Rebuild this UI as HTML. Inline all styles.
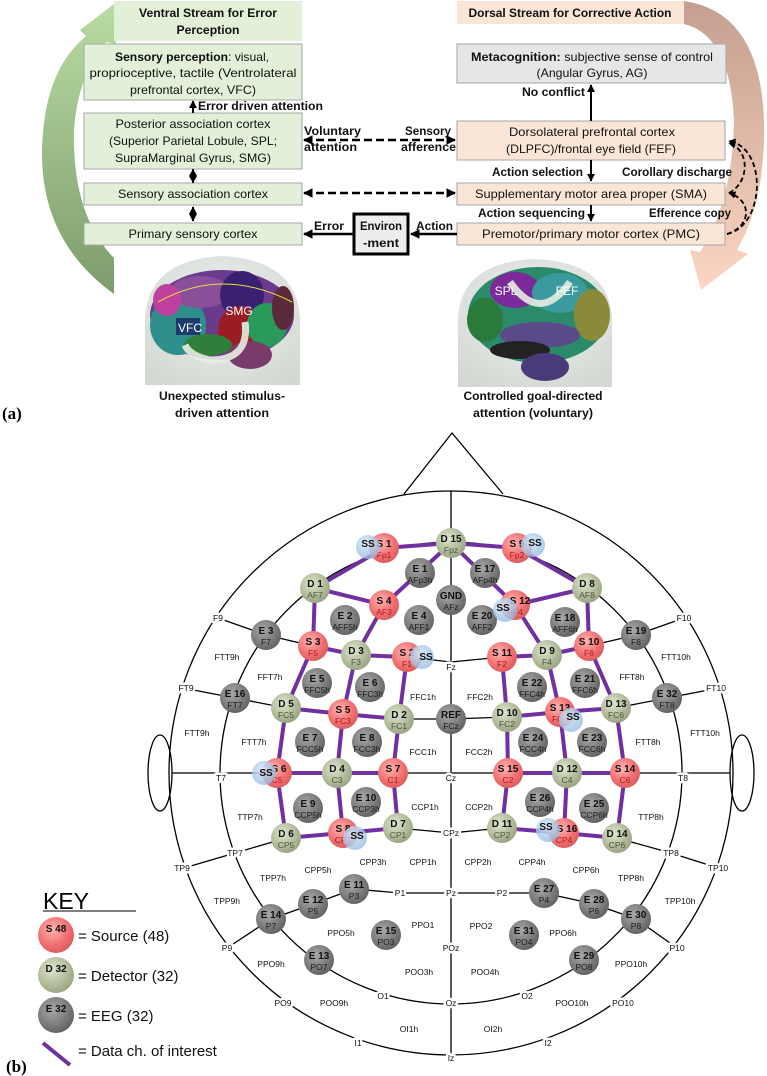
<!DOCTYPE html>
<html><head><meta charset="utf-8"><style>
html,body{margin:0;padding:0;background:#fff;}
svg{display:block;font-family:"Liberation Sans",sans-serif;}
.bx{font-size:12px;fill:#111;}
.lb{font-size:11.5px;font-weight:bold;fill:#111;}
.ml{font-size:8.5px;fill:#111;paint-order:stroke;stroke:#fff;stroke-width:5px;stroke-linejoin:round;}
.nt{font-size:10px;font-weight:bold;fill:#111;}
.nbS{font-size:8.5px;fill:#b01818;}
.nbD{font-size:8.5px;fill:#4b5637;}
.nbE{font-size:8.5px;fill:#1c1c1c;}
.pl{stroke:#7030a0;stroke-width:4;stroke-linecap:round;}
</style></head><body>
<svg width="767" height="1076" viewBox="0 0 767 1076" xmlns="http://www.w3.org/2000/svg">
<defs>
<linearGradient id="gg" x1="0" y1="0" x2="0" y2="1"><stop offset="0" stop-color="#b9dca3"/><stop offset="1" stop-color="#7d9c6c"/></linearGradient>
<linearGradient id="pg" x1="0" y1="0" x2="0" y2="1"><stop offset="0" stop-color="#c49f8f"/><stop offset="1" stop-color="#fbd6c2"/></linearGradient>
<radialGradient id="gS" cx="0.4" cy="0.35" r="0.7"><stop offset="0" stop-color="#ffb3b3"/><stop offset="0.6" stop-color="#f27272"/><stop offset="1" stop-color="#d85a5a"/></radialGradient>
<radialGradient id="gD" cx="0.4" cy="0.35" r="0.7"><stop offset="0" stop-color="#dfe5cf"/><stop offset="0.6" stop-color="#b3bd9c"/><stop offset="1" stop-color="#97a182"/></radialGradient>
<radialGradient id="gE" cx="0.4" cy="0.35" r="0.7"><stop offset="0" stop-color="#a8a8a8"/><stop offset="0.6" stop-color="#7d7d7d"/><stop offset="1" stop-color="#5e5e5e"/></radialGradient>
<radialGradient id="gB" cx="0.4" cy="0.35" r="0.7"><stop offset="0" stop-color="#d6e7f7" stop-opacity="0.9"/><stop offset="1" stop-color="#8fb8e0" stop-opacity="0.75"/></radialGradient>
<radialGradient id="head" cx="0.5" cy="0.4" r="0.7"><stop offset="0" stop-color="#eef1ee"/><stop offset="1" stop-color="#d3d8d3"/></radialGradient>
<marker id="ah" viewBox="0 0 10 10" refX="9" refY="5" markerWidth="4" markerHeight="4" orient="auto-start-reverse"><path d="M0,0L10,5L0,10z" fill="#000"/></marker>
</defs>

<!-- ===== (a) ===== -->
<path d="M114,294 Q25,230 46,110 Q55,62 86,36 L80,30 L114,4 L116,44 L106,42 Q78,75 74,130 Q72,215 114,258 Z" fill="url(#gg)"/>
<path d="M684,1 Q760,12 764,120 Q766,200 737,250 L748,254 L701,290 L690,250 L700,252 Q733,200 734,120 Q730,35 684,24 Z" fill="url(#pg)"/>

<rect x="114" y="1" width="188" height="40" fill="#e2f0d9"/>
<text class="bx" font-weight="bold" x="208" y="17" text-anchor="middle" textLength="138" lengthAdjust="spacingAndGlyphs">Ventral Stream for Error</text>
<text class="bx" font-weight="bold" x="208" y="34" text-anchor="middle" textLength="63" lengthAdjust="spacingAndGlyphs">Perception</text>
<rect x="457" y="1" width="227" height="23" fill="#fbe5d6"/>
<text class="bx" font-weight="bold" x="570" y="17" text-anchor="middle" textLength="203" lengthAdjust="spacingAndGlyphs">Dorsal Stream for Corrective Action</text>

<g stroke="#a6a6a6" stroke-width="1">
<rect x="84" y="44" width="218" height="56" fill="#e2f0d9"/>
<rect x="84" y="113" width="218" height="56" fill="#e2f0d9"/>
<rect x="84" y="183" width="218" height="22" fill="#e2f0d9"/>
<rect x="84" y="223" width="218" height="22" fill="#e2f0d9"/>
<rect x="457" y="44" width="269" height="39" fill="#e7e6e6"/>
<rect x="457" y="121" width="268" height="39" fill="#fbe5d6"/>
<rect x="457" y="183" width="268" height="22" fill="#fbe5d6"/>
<rect x="457" y="223" width="268" height="22" fill="#fbe5d6"/>
</g>
<rect x="354" y="214" width="54" height="40" fill="#ededed" stroke="#000" stroke-width="3"/>

<text class="bx" x="192" y="61" text-anchor="middle" textLength="154" lengthAdjust="spacingAndGlyphs"><tspan font-weight="bold">Sensory perception</tspan>: visual,</text>
<text class="bx" x="193" y="77" text-anchor="middle" textLength="207" lengthAdjust="spacingAndGlyphs">proprioceptive, tactile (Ventrolateral</text>
<text class="bx" x="193" y="94" text-anchor="middle" textLength="126" lengthAdjust="spacingAndGlyphs">prefrontal cortex, VFC)</text>
<text class="bx" x="193" y="128" text-anchor="middle" textLength="155" lengthAdjust="spacingAndGlyphs">Posterior association cortex</text>
<text class="bx" x="193" y="145" text-anchor="middle" textLength="168" lengthAdjust="spacingAndGlyphs">(Superior Parietal Lobule, SPL;</text>
<text class="bx" x="193" y="162" text-anchor="middle" textLength="156" lengthAdjust="spacingAndGlyphs">SupraMarginal Gyrus, SMG)</text>
<text class="bx" x="193" y="198" text-anchor="middle" textLength="150" lengthAdjust="spacingAndGlyphs">Sensory association cortex</text>
<text class="bx" x="193" y="238" text-anchor="middle" textLength="129" lengthAdjust="spacingAndGlyphs">Primary sensory cortex</text>
<text class="bx" x="592" y="61" text-anchor="middle" textLength="242" lengthAdjust="spacingAndGlyphs"><tspan font-weight="bold">Metacognition:</tspan> subjective sense of control</text>
<text class="bx" x="592" y="77" text-anchor="middle" textLength="111" lengthAdjust="spacingAndGlyphs">(Angular Gyrus, AG)</text>
<text class="bx" x="592" y="136" text-anchor="middle" textLength="166" lengthAdjust="spacingAndGlyphs">Dorsolateral prefrontal cortex</text>
<text class="bx" x="591" y="153" text-anchor="middle" textLength="170" lengthAdjust="spacingAndGlyphs">(DLPFC)/frontal eye field (FEF)</text>
<text class="bx" x="591" y="198" text-anchor="middle" textLength="232" lengthAdjust="spacingAndGlyphs">Supplementary motor area proper (SMA)</text>
<text class="bx" x="591" y="238" text-anchor="middle" textLength="218" lengthAdjust="spacingAndGlyphs">Premotor/primary motor cortex (PMC)</text>
<text class="bx" font-weight="bold" x="381" y="230" text-anchor="middle" textLength="42" lengthAdjust="spacingAndGlyphs">Environ</text>
<text class="bx" font-weight="bold" x="381" y="247" text-anchor="middle" textLength="36" lengthAdjust="spacingAndGlyphs">-ment</text>

<g class="lb">
<text x="198" y="110" textLength="125" lengthAdjust="spacingAndGlyphs">Error driven attention</text>
<text x="304" y="135" textLength="57" lengthAdjust="spacingAndGlyphs">Voluntary</text>
<text x="304" y="151" textLength="53" lengthAdjust="spacingAndGlyphs">attention</text>
<text x="405" y="135" textLength="46" lengthAdjust="spacingAndGlyphs">Sensory</text>
<text x="401" y="151" textLength="55" lengthAdjust="spacingAndGlyphs">afference</text>
<text x="522" y="96" textLength="63" lengthAdjust="spacingAndGlyphs">No conflict</text>
<text x="492" y="176" textLength="91" lengthAdjust="spacingAndGlyphs">Action selection</text>
<text x="622" y="176" textLength="110" lengthAdjust="spacingAndGlyphs">Corollary discharge</text>
<text x="478" y="217" textLength="107" lengthAdjust="spacingAndGlyphs">Action sequencing</text>
<text x="649" y="217" textLength="82" lengthAdjust="spacingAndGlyphs">Efference copy</text>
<text x="314" y="230" textLength="30" lengthAdjust="spacingAndGlyphs">Error</text>
<text x="416" y="230" textLength="37" lengthAdjust="spacingAndGlyphs">Action</text>
</g>

<g stroke="#000" stroke-width="2" fill="none">
<line x1="193" y1="113" x2="193" y2="101" marker-end="url(#ah)"/>
<line x1="193" y1="169" x2="193" y2="183"/>
<line x1="193" y1="207" x2="193" y2="221" marker-start="url(#ah)" marker-end="url(#ah)"/>
<line x1="304" y1="140" x2="455" y2="140" stroke-dasharray="8,4" stroke-width="2.4" marker-start="url(#ah)" marker-end="url(#ah)"/>
<line x1="304" y1="193" x2="455" y2="193" stroke-dasharray="8,4" stroke-width="2.4" marker-start="url(#ah)" marker-end="url(#ah)"/>
<line x1="353" y1="234" x2="304" y2="234" stroke-width="2.4" marker-end="url(#ah)"/>
<line x1="457" y1="234" x2="411" y2="234" stroke-width="2.4" marker-end="url(#ah)"/>
<line x1="591" y1="121" x2="591" y2="85" marker-end="url(#ah)"/>
<line x1="591" y1="160" x2="591" y2="181" marker-end="url(#ah)"/>
<line x1="591" y1="205" x2="591" y2="221" marker-end="url(#ah)"/>
<path d="M727,234 C765,226 768,148 729,141" stroke-dasharray="5,3" stroke-width="1.8" marker-end="url(#ah)"/>
<path d="M727,234 C752,226 752,200 729,193" stroke-dasharray="5,3" stroke-width="1.8" marker-end="url(#ah)"/>
<path d="M729,193 C750,182 750,150 729,143" stroke-dasharray="5,3" stroke-width="1.8" marker-end="url(#ah)"/>
</g>
<path d="M193,169 L197,176 L193,183 L189,176 Z" fill="#000"/>

<!-- brains -->
<path d="M145,385 L145,320 Q147,260 222,256 Q298,260 300,320 L300,385 Z" fill="url(#head)"/>
<g>
<ellipse cx="222" cy="315" rx="72" ry="45" fill="#6a3a8c"/>
<ellipse cx="178" cy="325" rx="28" ry="30" fill="#2f8f8a"/>
<ellipse cx="200" cy="292" rx="30" ry="16" fill="#8a4f9a"/>
<ellipse cx="242" cy="295" rx="22" ry="24" fill="#3a2070"/>
<ellipse cx="240" cy="330" rx="22" ry="24" fill="#9c1c24"/>
<ellipse cx="267" cy="325" rx="20" ry="22" fill="#2a9a5a"/>
<ellipse cx="283" cy="308" rx="11" ry="22" fill="#5a2a3a"/>
<ellipse cx="208" cy="345" rx="24" ry="11" fill="#2f7f3a"/>
<ellipse cx="250" cy="355" rx="22" ry="14" fill="#7a3a6a"/>
<ellipse cx="167" cy="300" rx="14" ry="16" fill="#c040a0"/>
<rect x="176" y="318" width="24" height="17" fill="#1e3a6a"/>
</g>
<path d="M158,302 Q222,266 292,302" fill="none" stroke="#e8e040" stroke-width="1"/>
<path d="M245,322 Q250,360 210,360 Q190,356 185,345" fill="none" stroke="#e6ede0" stroke-width="7" opacity="0.9"/>
<text x="239" y="315" fill="#fff" font-size="12" text-anchor="middle">SMG</text>
<text x="190" y="332" fill="#fff" font-size="12" text-anchor="middle">VFC</text>
<path d="M458,387 L458,320 Q460,262 535,259 Q610,262 612,320 L612,387 Z" fill="url(#head)"/>
<g>
<ellipse cx="538" cy="315" rx="70" ry="48" fill="#2a8a6a"/>
<ellipse cx="515" cy="290" rx="25" ry="18" fill="#7a2a9a"/>
<ellipse cx="560" cy="293" rx="28" ry="20" fill="#3a9aa0"/>
<ellipse cx="592" cy="315" rx="18" ry="26" fill="#8a8a3a"/>
<ellipse cx="540" cy="335" rx="40" ry="13" fill="#5a4a8a"/>
<ellipse cx="520" cy="350" rx="30" ry="9" fill="#222"/>
<ellipse cx="545" cy="367" rx="24" ry="14" fill="#4a3a7a"/>
<ellipse cx="485" cy="320" rx="18" ry="22" fill="#2a7a3a"/>
</g>
<path d="M510,282 Q540,325 570,282" fill="none" stroke="#e6ede0" stroke-width="7" opacity="0.9"/>
<text x="506" y="295" fill="#fff" font-size="12" text-anchor="middle">SPL</text>
<text x="567" y="295" fill="#fff" font-size="12" text-anchor="middle">FEF</text>

<g class="lb" text-anchor="middle">
<text x="222" y="400" textLength="126" lengthAdjust="spacingAndGlyphs">Unexpected stimulus-</text>
<text x="222" y="417" textLength="94" lengthAdjust="spacingAndGlyphs">driven attention</text>
<text x="533" y="400" textLength="139" lengthAdjust="spacingAndGlyphs">Controlled goal-directed</text>
<text x="533" y="417" textLength="120" lengthAdjust="spacingAndGlyphs">attention (voluntary)</text>
</g>
<text x="2" y="419" font-family="Liberation Serif,serif" font-weight="bold" font-size="17">(a)</text>

<!-- ===== (b) ===== -->
<g stroke="#000" stroke-width="1.3" fill="none">
<path d="M404,494 L452,433 L503,494"/>
<circle cx="451" cy="773" r="282"/>
<circle cx="451" cy="773" r="231"/>
<ellipse cx="160" cy="773" rx="12" ry="38"/>
<ellipse cx="742" cy="773" rx="12" ry="38"/>
<line x1="451" y1="491" x2="451" y2="1055"/>
<line x1="172" y1="773" x2="730" y2="773"/>
<polyline points="218,618 266,635 313,646 356,655 407,657 451,662 502,657 547,655 589,646 636,635 684,618"/>
<polyline points="183,688 235,698 286,708 343,714 399,719 451,719 507,717 560,712 616,708 667,698 719,688"/>
<polyline points="184,868 235,853 286,838 343,833 398,828 451,833 502,828 564,833 617,838 671,853 718,868"/>
<polyline points="227,948 271,919 313,904 354,889 400,893 451,893 502,893 544,893 594,904 636,919 677,948"/>
</g>

<g class="ml" text-anchor="middle">
<text x="218" y="621">F9</text><text x="684" y="621">F10</text>
<text x="227" y="660">FTT9h</text><text x="676" y="660">FTT10h</text>
<text x="270" y="680">FFT7h</text><text x="632" y="680">FFT8h</text>
<text x="186" y="691">FT9</text><text x="716" y="691">FT10</text>
<text x="197" y="736">FTT9h</text><text x="705" y="736">FTT10h</text>
<text x="254" y="745">FTT7h</text><text x="648" y="745">FTT8h</text>
<text x="221" y="781">T7</text><text x="683" y="781">T8</text>
<text x="451" y="670">Fz</text><text x="451" y="781">Cz</text><text x="451" y="836">CPz</text>
<text x="423" y="700">FFC1h</text><text x="480" y="700">FFC2h</text>
<text x="423" y="755">FCC1h</text><text x="479" y="755">FCC2h</text>
<text x="425" y="810">CCP1h</text><text x="479" y="810">CCP2h</text>
<text x="250" y="820">TTP7h</text><text x="651" y="820">TTP8h</text>
<text x="235" y="856">TP7</text><text x="671" y="856">TP8</text>
<text x="182" y="871">TP9</text><text x="718" y="871">TP10</text>
<text x="318" y="873">CPP5h</text><text x="373" y="865">CPP3h</text><text x="423" y="865">CPP1h</text>
<text x="478" y="865">CPP2h</text><text x="532" y="865">CPP4h</text><text x="586" y="873">CPP6h</text>
<text x="273" y="881">TPP7h</text><text x="631" y="881">TPP8h</text>
<text x="227" y="904">TPP9h</text><text x="680" y="904">TPP10h</text>
<text x="400" y="896">P1</text><text x="451" y="896">Pz</text><text x="502" y="896">P2</text>
<text x="227" y="951">P9</text><text x="677" y="951">P10</text>
<text x="341" y="936">PPO5h</text><text x="423" y="928">PPO1</text><text x="481" y="929">PPO2</text><text x="563" y="936">PPO6h</text>
<text x="451" y="951">POz</text>
<text x="271" y="967">PPO9h</text><text x="631" y="967">PPO10h</text>
<text x="419" y="975">POO3h</text><text x="485" y="975">POO4h</text>
<text x="383" y="999">O1</text><text x="451" y="1006">Oz</text><text x="527" y="999">O2</text>
<text x="283" y="1006">PO9</text><text x="334" y="1006">POO9h</text><text x="572" y="1006">POO10h</text><text x="623" y="1006">PO10</text>
<text x="409" y="1032">OI1h</text><text x="493" y="1032">OI2h</text>
<text x="358" y="1046">I1</text><text x="548" y="1046">I2</text>
<text x="451" y="1061">Iz</text>
</g>

<g class="pl">
<line x1="384" y1="548" x2="451" y2="543"/><line x1="451" y1="543" x2="517" y2="548"/>
<line x1="384" y1="548" x2="315" y2="588"/><line x1="451" y1="543" x2="384" y2="605"/>
<line x1="315" y1="588" x2="384" y2="605"/><line x1="315" y1="588" x2="313" y2="646"/>
<line x1="384" y1="605" x2="356" y2="655"/><line x1="313" y1="646" x2="356" y2="655"/>
<line x1="356" y1="655" x2="407" y2="657"/><line x1="313" y1="646" x2="286" y2="708"/>
<line x1="356" y1="655" x2="343" y2="714"/><line x1="407" y1="657" x2="399" y2="719"/>
<line x1="286" y1="708" x2="343" y2="714"/><line x1="343" y1="714" x2="399" y2="719"/>
<line x1="286" y1="708" x2="277" y2="773"/><line x1="343" y1="714" x2="337" y2="773"/>
<line x1="277" y1="773" x2="337" y2="773"/><line x1="337" y1="773" x2="393" y2="773"/>
<line x1="399" y1="719" x2="393" y2="773"/><line x1="337" y1="773" x2="343" y2="833"/>
<line x1="393" y1="773" x2="398" y2="828"/><line x1="277" y1="773" x2="286" y2="838"/>
<line x1="286" y1="838" x2="343" y2="833"/><line x1="343" y1="833" x2="398" y2="828"/>
<line x1="517" y1="548" x2="587" y2="588"/><line x1="451" y1="543" x2="515" y2="605"/>
<line x1="587" y1="588" x2="515" y2="605"/><line x1="515" y1="605" x2="547" y2="655"/>
<line x1="587" y1="588" x2="589" y2="646"/><line x1="502" y1="657" x2="547" y2="655"/>
<line x1="547" y1="655" x2="589" y2="646"/><line x1="502" y1="657" x2="507" y2="717"/>
<line x1="547" y1="655" x2="560" y2="712"/><line x1="589" y1="646" x2="616" y2="708"/>
<line x1="507" y1="717" x2="560" y2="712"/><line x1="560" y1="712" x2="616" y2="708"/>
<line x1="507" y1="717" x2="508" y2="773"/><line x1="560" y1="712" x2="567" y2="773"/>
<line x1="616" y1="708" x2="625" y2="773"/><line x1="508" y1="773" x2="567" y2="773"/>
<line x1="567" y1="773" x2="625" y2="773"/><line x1="508" y1="773" x2="502" y2="828"/>
<line x1="567" y1="773" x2="564" y2="833"/><line x1="625" y1="773" x2="617" y2="838"/>
<line x1="502" y1="828" x2="564" y2="833"/><line x1="564" y1="833" x2="617" y2="838"/>
</g>

<g>
<g fill="url(#gS)">
<circle cx="384" cy="548" r="15"/><circle cx="517" cy="548" r="15"/><circle cx="384" cy="605" r="15"/><circle cx="515" cy="605" r="15"/>
<circle cx="313" cy="646" r="15"/><circle cx="407" cy="657" r="15"/><circle cx="502" cy="657" r="15"/><circle cx="589" cy="646" r="15"/>
<circle cx="343" cy="714" r="15"/><circle cx="560" cy="712" r="15"/><circle cx="277" cy="773" r="15"/><circle cx="393" cy="773" r="15"/>
<circle cx="508" cy="773" r="15"/><circle cx="625" cy="773" r="15"/><circle cx="343" cy="833" r="15"/><circle cx="564" cy="833" r="15"/>
</g>
<g fill="url(#gD)">
<circle cx="451" cy="543" r="15"/><circle cx="315" cy="588" r="15"/><circle cx="587" cy="588" r="15"/><circle cx="356" cy="655" r="15"/>
<circle cx="547" cy="655" r="15"/><circle cx="286" cy="708" r="15"/><circle cx="399" cy="719" r="15"/><circle cx="507" cy="717" r="15"/>
<circle cx="616" cy="708" r="15"/><circle cx="337" cy="773" r="15"/><circle cx="567" cy="773" r="15"/><circle cx="286" cy="838" r="15"/>
<circle cx="398" cy="828" r="15"/><circle cx="502" cy="828" r="15"/><circle cx="617" cy="838" r="15"/>
</g>
<g fill="url(#gE)">
<circle cx="420" cy="573" r="15"/><circle cx="485" cy="573" r="15"/><circle cx="451" cy="600" r="15"/><circle cx="345" cy="620" r="15"/>
<circle cx="419" cy="620" r="15"/><circle cx="482" cy="620" r="15"/><circle cx="565" cy="622" r="15"/><circle cx="266" cy="635" r="15"/>
<circle cx="636" cy="635" r="15"/><circle cx="317" cy="683" r="15"/><circle cx="370" cy="687" r="15"/><circle cx="532" cy="687" r="15"/>
<circle cx="585" cy="683" r="15"/><circle cx="235" cy="698" r="15"/><circle cx="667" cy="698" r="15"/><circle cx="451" cy="719" r="15"/>
<circle cx="310" cy="742" r="15"/><circle cx="367" cy="742" r="15"/><circle cx="533" cy="742" r="15"/><circle cx="592" cy="742" r="15"/>
<circle cx="308" cy="808" r="15"/><circle cx="366" cy="802" r="15"/><circle cx="540" cy="802" r="15"/><circle cx="594" cy="808" r="15"/>
<circle cx="354" cy="889" r="15"/><circle cx="313" cy="904" r="15"/><circle cx="271" cy="919" r="15"/><circle cx="544" cy="893" r="15"/>
<circle cx="594" cy="904" r="15"/><circle cx="636" cy="919" r="15"/><circle cx="386" cy="935" r="15"/><circle cx="524" cy="935" r="15"/>
<circle cx="319" cy="960" r="15"/><circle cx="584" cy="960" r="15"/>
</g>
</g>

<g text-anchor="middle">
<g class="nt">
<text x="384" y="547">S 1</text><text x="517" y="547">S 9</text><text x="384" y="604">S 4</text><text x="520" y="604">S 12</text>
<text x="313" y="645">S 3</text><text x="407" y="656">S 2</text><text x="502" y="656">S 11</text><text x="589" y="645">S 10</text>
<text x="343" y="713">S 5</text><text x="560" y="711">S 13</text><text x="279" y="772">S 6</text><text x="393" y="772">S 7</text>
<text x="508" y="772">S 15</text><text x="625" y="772">S 14</text><text x="343" y="832">S 8</text><text x="567" y="832">S 16</text>
<text x="451" y="542">D 15</text><text x="315" y="587">D 1</text><text x="587" y="587">D 8</text><text x="356" y="654">D 3</text>
<text x="547" y="654">D 9</text><text x="286" y="707">D 5</text><text x="399" y="718">D 2</text><text x="507" y="716">D 10</text>
<text x="616" y="707">D 13</text><text x="337" y="772">D 4</text><text x="567" y="772">D 12</text><text x="286" y="837">D 6</text>
<text x="398" y="827">D 7</text><text x="502" y="827">D 11</text><text x="617" y="837">D 14</text>
<text x="420" y="572">E 1</text><text x="485" y="572">E 17</text><text x="451" y="599">GND</text><text x="345" y="619">E 2</text>
<text x="419" y="619">E 4</text><text x="482" y="619">E 20</text><text x="565" y="621">E 18</text><text x="266" y="634">E 3</text>
<text x="636" y="634">E 19</text><text x="317" y="682">E 5</text><text x="370" y="686">E 6</text><text x="532" y="686">E 22</text>
<text x="585" y="682">E 21</text><text x="235" y="697">E 16</text><text x="667" y="697">E 32</text><text x="451" y="718">REF</text>
<text x="310" y="741">E 7</text><text x="367" y="741">E 8</text><text x="533" y="741">E 24</text><text x="592" y="741">E 23</text>
<text x="308" y="807">E 9</text><text x="366" y="801">E 10</text><text x="540" y="801">E 26</text><text x="594" y="807">E 25</text>
<text x="354" y="888">E 11</text><text x="313" y="903">E 12</text><text x="271" y="918">E 14</text><text x="544" y="892">E 27</text>
<text x="594" y="903">E 28</text><text x="636" y="918">E 30</text><text x="386" y="934">E 15</text><text x="524" y="934">E 31</text>
<text x="319" y="959">E 13</text><text x="584" y="959">E 29</text>
</g>
<g class="nbS">
<text x="384" y="558">Fp1</text><text x="517" y="558">Fp2</text><text x="384" y="615">AF3</text><text x="515" y="615">AF4</text>
<text x="313" y="656">F5</text><text x="407" y="667">F1</text><text x="502" y="667">F2</text><text x="589" y="656">F6</text>
<text x="343" y="724">FC3</text><text x="560" y="722">FC4</text><text x="277" y="783">C5</text><text x="393" y="783">C1</text>
<text x="508" y="783">C2</text><text x="625" y="783">C6</text><text x="343" y="843">CP3</text><text x="564" y="843">CP4</text>
</g>
<g class="nbD">
<text x="451" y="553">Fpz</text><text x="315" y="598">AF7</text><text x="587" y="598">AF8</text><text x="356" y="665">F3</text>
<text x="547" y="665">F4</text><text x="286" y="718">FC5</text><text x="399" y="729">FC1</text><text x="507" y="727">FC2</text>
<text x="616" y="718">FC6</text><text x="337" y="783">C3</text><text x="567" y="783">C4</text><text x="286" y="848">CP5</text>
<text x="398" y="838">CP1</text><text x="502" y="838">CP2</text><text x="617" y="848">CP6</text>
</g>
<g class="nbE">
<text x="420" y="583">AFp3h</text><text x="485" y="583">AFp4h</text><text x="451" y="610">AFz</text><text x="345" y="630">AFF5h</text>
<text x="419" y="630">AFF1</text><text x="482" y="630">AFF2</text><text x="565" y="632">AFF6h</text><text x="266" y="645">F7</text>
<text x="636" y="645">F8</text><text x="317" y="693">FFC5h</text><text x="370" y="697">FFC3h</text><text x="532" y="697">FFC4h</text>
<text x="585" y="693">FFC6h</text><text x="235" y="708">FT7</text><text x="667" y="708">FT8</text><text x="451" y="729">FCz</text>
<text x="310" y="752">FCC5h</text><text x="367" y="752">FCC3h</text><text x="533" y="752">FCC4h</text><text x="592" y="752">FCC6h</text>
<text x="308" y="818">CCP5h</text><text x="366" y="812">CCP3h</text><text x="540" y="812">CCP4h</text><text x="594" y="818">CCP6h</text>
<text x="354" y="899">P3</text><text x="313" y="914">P5</text><text x="271" y="929">P7</text><text x="544" y="903">P4</text>
<text x="594" y="914">P6</text><text x="636" y="929">P8</text><text x="386" y="945">PO3</text><text x="524" y="945">PO4</text>
<text x="319" y="970">PO7</text><text x="584" y="970">PO8</text>
</g>
</g>

<g fill="url(#gB)">
<circle cx="368" cy="547" r="12"/><circle cx="533" cy="545" r="12"/><circle cx="505" cy="610" r="12"/><circle cx="422" cy="657" r="12"/>
<circle cx="571" cy="720" r="12"/><circle cx="264" cy="773" r="12"/><circle cx="355" cy="838" r="12"/><circle cx="548" cy="830" r="12"/>
</g>
<g class="nt" font-size="9" text-anchor="middle">
<text x="368" y="547">SS</text><text x="535" y="546">SS</text><text x="503" y="611">SS</text><text x="426" y="660">SS</text>
<text x="573" y="720">SS</text><text x="266" y="776">SS</text><text x="357" y="839">SS</text><text x="546" y="830">SS</text>
</g>

<text x="43" y="909" font-size="23">KEY</text>
<line x1="43" y1="911" x2="136" y2="911" stroke="#000" stroke-width="1"/>
<circle cx="56" cy="935" r="18" fill="url(#gS)"/><circle cx="56" cy="975" r="18" fill="url(#gD)"/><circle cx="56" cy="1015" r="18" fill="url(#gE)"/>
<g class="nt" text-anchor="middle" font-size="10.5"><text x="56" y="932">S 48</text><text x="56" y="972">D 32</text><text x="56" y="1012">E 32</text></g>
<g font-size="15" fill="#111">
<text x="78" y="941">=  Source (48)</text>
<text x="78" y="981">=  Detector (32)</text>
<text x="78" y="1021">=  EEG (32)</text>
<text x="78" y="1056">=  Data ch. of interest</text>
</g>
<line x1="43" y1="1043" x2="70" y2="1065" stroke="#7030a0" stroke-width="4"/>
<text x="6" y="1072" font-family="Liberation Serif,serif" font-weight="bold" font-size="17">(b)</text>
</svg>
</body></html>
